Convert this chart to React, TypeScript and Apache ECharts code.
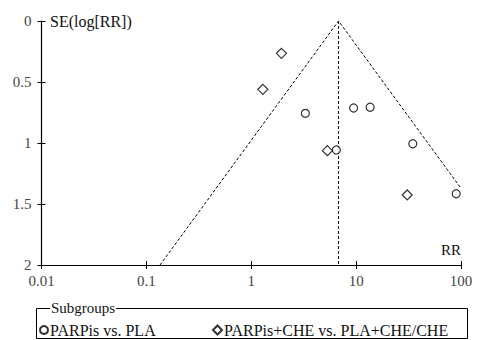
import React, { useEffect, useRef } from "react";
import * as echarts from "echarts";

const seriesNames = ["PARPis vs. PLA", "PARPis+CHE vs. PLA+CHE/CHE"];
const plaRR = [3.28, 9.46, 13.6, 34.7, 6.48, 90];
const plaSE = [0.757, 0.713, 0.707, 1.006, 1.057, 1.416];
const cheRR = [1.94, 1.29, 5.32, 30.7];
const cheSE = [0.265, 0.56, 1.063, 1.426];
const pooledRR = 6.8;
const xTicks = [0.01, 0.1, 1, 10, 100];
const yTicks = [0, 0.5, 1, 1.5, 2];

const FONT = "serif";

export default function App() {
  const ref = useRef<HTMLDivElement>(null);
  useEffect(() => {
    if (!ref.current) return;
    const chart = echarts.init(ref.current, null, { renderer: "svg" });
    const seMax = yTicks[yTicks.length - 1];
    const lnP = Math.log(pooledRR);
    const leftEnd = Math.exp(lnP - 1.96 * seMax);
    const xMax = xTicks[xTicks.length - 1];
    const rightSE = (Math.log(xMax) - lnP) / 1.96;
    const funnel = [
      [leftEnd, seMax],
      [pooledRR, 0],
      [xMax, rightSE],
    ];
    const dashed = { color: "#000", width: 1, type: [3, 2] as any };
    const baseX = {
      type: "log" as const,
      logBase: 10,
      min: xTicks[0],
      max: xMax,
      position: "bottom",
      splitLine: { show: false },
    };
    const baseY = {
      type: "value" as const,
      inverse: true,
      min: 0,
      max: seMax,
      interval: 0.5,
      position: "left",
      splitLine: { show: false },
    };
    chart.setOption({
      animation: false,
      textStyle: { fontFamily: FONT },
      grid: { left: 41.5, right: 17, top: 21, bottom: 75 },
      xAxis: [
        {
          ...baseX,
          axisLine: { onZero: false, lineStyle: { color: "#000", width: 1.2 } },
          axisTick: { length: 4, lineStyle: { color: "#000" } },
          axisLabel: { color: "#444", fontSize: 15, fontFamily: FONT, margin: 8 },
        },
        {
          ...baseX,
          axisLine: { show: false, onZero: false },
          axisTick: { inside: true, length: 4, lineStyle: { color: "#000" } },
          axisLabel: { show: false },
        },
      ],
      yAxis: [
        {
          ...baseY,
          axisLine: { show: true, onZero: false, lineStyle: { color: "#000", width: 1.2 } },
          axisTick: { show: true, length: 4, lineStyle: { color: "#000" } },
          axisLabel: {
            color: "#444",
            fontSize: 15,
            fontFamily: FONT,
            margin: 10,
            formatter: (v: number) => String(v),
          },
        },
        {
          ...baseY,
          axisLine: { show: false, onZero: false },
          axisTick: { show: true, inside: true, length: 4, lineStyle: { color: "#000" } },
          axisLabel: { show: false },
        },
      ],
      legend: [
        {
          data: [{ name: seriesNames[0], icon: "circle" }],
          left: 39,
          top: 322,
          itemWidth: 8,
          itemHeight: 8,
          textStyle: { color: "#111", fontSize: 16, fontFamily: FONT, padding: [0, 0, 0, -3] },
          padding: 0,
        },
        {
          data: [{ name: seriesNames[1], icon: "diamond" }],
          left: 212,
          top: 322,
          itemWidth: 9,
          itemHeight: 9,
          textStyle: { color: "#111", fontSize: 16, fontFamily: FONT, padding: [0, 0, 0, -3] },
          padding: 0,
        },
      ],
      graphic: [
        {
          type: "rect",
          shape: { x: 36.5, y: 308.5, width: 431, height: 30 },
          style: { fill: "none", stroke: "#000", lineWidth: 1 },
          silent: true,
        },
        {
          type: "text",
          x: 50,
          y: 300,
          style: {
            text: "Subgroups",
            fill: "#111",
            fontSize: 15,
            fontFamily: FONT,
            backgroundColor: "#fff",
            padding: [0, 1, 0, 1],
          },
        },
        {
          type: "text",
          x: 50,
          y: 21,
          style: {
            text: "SE(log[RR])",
            fill: "#111",
            fontSize: 16,
            fontFamily: FONT,
            verticalAlign: "middle",
          },
        },
        {
          type: "text",
          x: 461,
          y: 250,
          style: {
            text: "RR",
            fill: "#111",
            fontSize: 15,
            fontFamily: FONT,
            align: "right",
            verticalAlign: "middle",
          },
        },
      ],
      series: [
        {
          type: "line",
          data: funnel,
          symbol: "none",
          lineStyle: dashed,
          silent: true,
          z: 1,
        },
        {
          type: "line",
          data: [
            [pooledRR, 0],
            [pooledRR, seMax],
          ],
          symbol: "none",
          lineStyle: dashed,
          silent: true,
          z: 1,
        },
        {
          name: seriesNames[0],
          type: "scatter",
          symbol: "circle",
          symbolSize: 8,
          data: plaRR.map((v, i) => [v, plaSE[i]]),
          itemStyle: { color: "#fff", borderColor: "#000", borderWidth: 1.2 },
          z: 3,
        },
        {
          name: seriesNames[1],
          type: "scatter",
          symbol: "diamond",
          symbolSize: 10,
          data: cheRR.map((v, i) => [v, cheSE[i]]),
          itemStyle: { color: "#fff", borderColor: "#000", borderWidth: 1.2 },
          z: 3,
        },
      ],
    });
    return () => chart.dispose();
  }, []);
  return <div ref={ref} style={{ width: 478, height: 340, position: "absolute", left: 0, top: 0 }} />;
}
